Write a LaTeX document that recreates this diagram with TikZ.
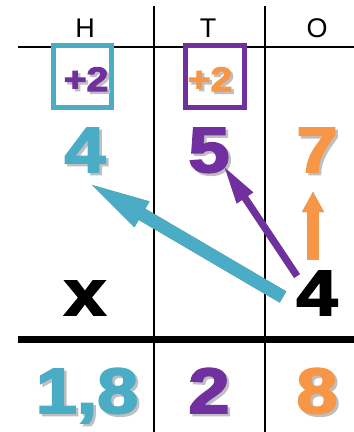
\documentclass[tikz,border=0pt]{standalone}
\usepackage{fontspec}
\setmainfont{Liberation Sans}
\newfontfamily\digfont[FakeBold=3]{Liberation Sans Bold}
\usetikzlibrary{arrows.meta}
\definecolor{cyanA}{HTML}{4BACC6}
\definecolor{purpleA}{HTML}{7030A0}
\definecolor{orangeA}{HTML}{F79646}
\definecolor{txtshadow}{HTML}{BFBFBF}
\definecolor{arrshadow}{HTML}{7F7F7F}
\newcommand{\widen}[1]{\scalebox{1.15}[1]{#1}}
% name, style, x, y, colour, text
\newcommand{\shtext}[6]{%
  \node[#2, text=txtshadow] at (#3+2.5,#4+2.5) {\widen{#6}};
  \node[#2, text=#5] (#1) at (#3,#4) {\widen{#6}};}
\begin{document}
\begin{tikzpicture}[x=1pt,y=-1pt,
  grid/.style={line width=2pt, black},
  heavy/.style={line width=7pt, black},
  header/.style={font=\fontsize{27}{27}\selectfont, inner sep=0pt, anchor=base},
  digit/.style={font=\digfont\fontsize{64}{64}\selectfont, inner sep=0pt, anchor=base},
  carry/.style={font=\digfont\fontsize{34}{34}\selectfont, inner sep=0pt, anchor=base},
  carrybox/.style={line width=5.5pt},
  bigarrow/.style={line width=13pt, -{Triangle[length=58pt,width=30pt,line width=0pt]}},
  midarrow/.style={line width=7pt, -{Triangle[length=36pt,width=20pt,line width=0pt]}},
  smallarrow/.style={line width=12pt, -{Triangle[length=20pt,width=22pt,line width=0pt]}},
  shadowed/.style={arrshadow, shift={(3,3)}}
]
\useasboundingbox (0,0) rectangle (354,432);
% grid
\coordinate (v1t) at (154,6);   \coordinate (v1b) at (154,432);
\coordinate (v2t) at (265,6);   \coordinate (v2b) at (265,432);
\coordinate (hl) at (18,47);    \coordinate (hr) at (354,47);
\coordinate (kl) at (18,339);   \coordinate (kr) at (354,339);
\draw[grid] (v1t) -- (v1b);
\draw[grid] (v2t) -- (v2b);
\draw[grid] (hl) -- (hr);
\draw[heavy] (kl) -- (kr);
% headers
\node[header] (H) at (85,37) {H};
\node[header] (T) at (208,37) {T};
\node[header] (O) at (317,37) {O};
% carry boxes
\draw[carrybox, cyanA, fill=white] (53.5,45.5) rectangle (111.5,107.5);
\draw[carrybox, purpleA, fill=white] (185.5,45.5) rectangle (244.5,107.5);
\shtext{c1}{carry}{86}{91}{purpleA}{+2}
\shtext{c2}{carry}{210}{91}{orangeA}{+2}
% top number
\shtext{d4}{digit}{85}{172}{cyanA}{4}
\shtext{d5}{digit}{209}{172}{purpleA}{5}
\shtext{d7}{digit}{317}{172}{orangeA}{7}
% multiplier
\node[digit] (times) at (85,315) {\widen{x}};
\node[digit] (m4) at (317,315) {\widen{4}};
% result
\shtext{r18}{digit}{87}{413}{cyanA}{1,8}
\shtext{r2}{digit}{209}{413}{purpleA}{2}
\shtext{r8}{digit}{317}{413}{orangeA}{8}
% arrows
\coordinate (cyt) at (283,297); \coordinate (cyh) at (92,185);
\coordinate (put) at (297,276); \coordinate (puh) at (225,168);
\coordinate (ort) at (313,260); \coordinate (orh) at (313,192);
\draw[bigarrow, shadowed] (cyt) -- (cyh);
\draw[bigarrow, cyanA] (cyt) -- (cyh);
\draw[midarrow, shadowed] (put) -- (puh);
\draw[midarrow, purpleA] (put) -- (puh);
\draw[smallarrow, shadowed] (ort) -- (orh);
\draw[smallarrow, orangeA] (ort) -- (orh);
\end{tikzpicture}
\end{document}
